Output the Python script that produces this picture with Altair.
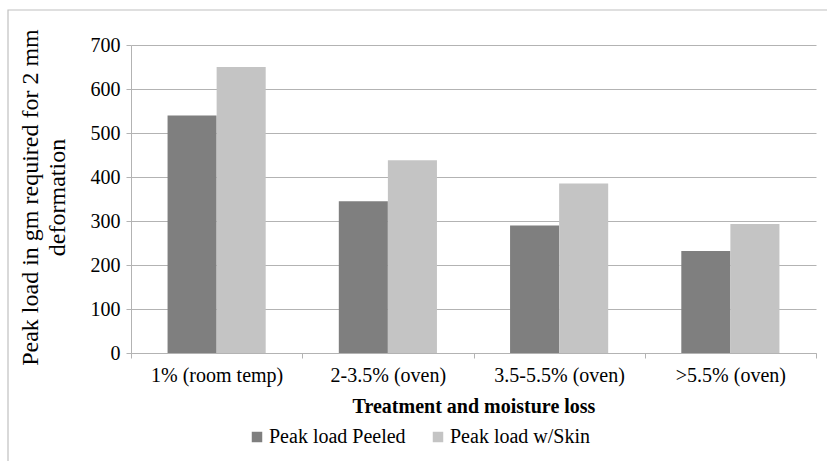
import altair as alt
import pandas as pd

categories = ["1% (room temp)", "2-3.5% (oven)", "3.5-5.5% (oven)", ">5.5% (oven)"]
series = ["Peak load Peeled", "Peak load w/Skin"]
peeled = [540, 345, 290, 232]
with_skin = [650, 438, 385, 293]

rows = []
for cat, p, s in zip(categories, peeled, with_skin):
    rows.append({"treatment": cat, "series": series[0], "load": p})
    rows.append({"treatment": cat, "series": series[1], "load": s})
df = pd.DataFrame(rows)

FONT = "Liberation Serif"
GRID = "#b3b3b3"
FS = 20

bars = alt.Chart(df).mark_bar().encode(
    x=alt.X(
        "treatment:N",
        sort=categories,
        scale=alt.Scale(paddingInner=0, paddingOuter=0),
        axis=alt.Axis(
            title="Treatment and moisture loss",
            titleFontWeight="bold",
            titlePadding=11,
            labelAngle=0,
            labelPadding=7,
            tickBand="extent",
            grid=False,
        ),
    ),
    xOffset=alt.XOffset(
        "series:N",
        sort=series,
        scale=alt.Scale(paddingInner=0, paddingOuter=0.745),
    ),
    y=alt.Y(
        "load:Q",
        scale=alt.Scale(domain=[0, 700], nice=False),
        axis=alt.Axis(
            title=["Peak load in gm required for 2 mm", "deformation"],
            titleFontWeight="normal",
            titleFontSize=24,
            titleBaseline="top",
            titleX=-113,
            titleY=152,
            titleLineHeight=27,
            labelPadding=6,
            values=[0, 100, 200, 300, 400, 500, 600, 700],
            gridColor=GRID,
        ),
    ),
    color=alt.Color(
        "series:N",
        sort=series,
        scale=alt.Scale(domain=series, range=["#7f7f7f", "#c4c4c4"]),
        legend=alt.Legend(
            title=None,
            orient="none",
            direction="horizontal",
            legendX=116,
            legendY=382,
            symbolType="square",
            symbolSize=110,
            symbolStrokeWidth=0,
            symbolOpacity=1,
            labelOffset=2,
            columnPadding=22,
        ),
    ),
)

# Outer frame around the whole figure
frame = alt.Chart(alt.Data(values=[{}])).mark_rect(
    fill="transparent", stroke="#c0c0c0", strokeWidth=1.2
).encode(
    x=alt.value(-123), x2=alt.value(720), y=alt.value(-35), y2=alt.value(500)
)

chart = (
    alt.layer(frame, bars)
    .properties(
        width=685,
        height=308,
        autosize=alt.AutoSizeParams(type="none"),
        padding={"left": 131, "top": 45, "right": 11, "bottom": 108},
        background="white",
    )
    .configure(font=FONT)
    .configure_view(stroke=None)
    .configure_axis(
        labelFont=FONT,
        labelFontSize=FS,
        labelColor="#000000",
        titleFont=FONT,
        titleFontSize=FS,
        titleColor="#000000",
        tickSize=5,
        tickColor=GRID,
        domainColor=GRID,
    )
    .configure_legend(
        labelFont=FONT,
        labelFontSize=FS,
        labelColor="#000000",
    )
)

chart.save("out.html", embed_options={"renderer": "svg", "actions": False})
